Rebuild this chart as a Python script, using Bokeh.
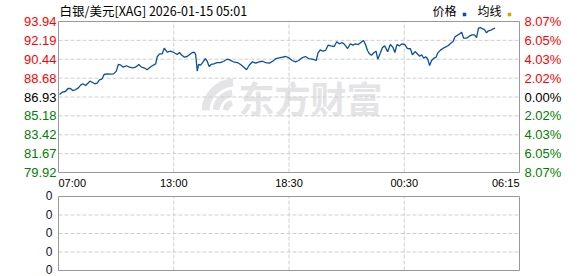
from bokeh.plotting import figure
from bokeh.models import Range1d, ColumnDataSource
from bokeh.core.properties import value, field
from bokeh.embed import file_html
from bokeh.resources import INLINE

# ---- data (minutes after 07:00, silver price USD) ----
minutes = [3, 11, 21, 29, 36, 43, 51, 60, 67, 74, 82, 89, 95, 102, 110, 117, 124, 132, 138, 147,
           157, 167, 175, 181, 189, 196, 205, 215, 225, 233, 243, 251, 259, 268, 275, 284, 294, 299,
           306, 314, 320, 329, 339, 349, 359, 366, 371, 381, 389, 397, 405, 412, 415, 420, 424, 430,
           437, 444, 450, 456, 462, 470, 480, 490, 500, 510, 518, 529, 541, 551, 561, 569, 577, 587,
           597, 607, 617, 627, 638, 648, 658, 668, 678, 688, 697, 707, 717, 727, 737, 747, 757, 768,
           780, 785, 792, 800, 808, 816, 824, 834, 842, 850, 858, 866, 875, 883, 891, 899, 907, 915,
           923, 929, 935, 941, 947, 955, 961, 966, 973, 980, 987, 996, 1004, 1012, 1018, 1024, 1032,
           1040, 1048, 1056, 1065, 1071, 1079, 1087, 1093, 1099, 1105, 1111, 1117, 1123, 1129, 1136,
           1142, 1148, 1156, 1164, 1172, 1180, 1186, 1194, 1200, 1206, 1212, 1220, 1226, 1235, 1243,
           1251, 1259, 1265, 1271, 1277, 1283, 1289, 1295, 1301, 1309, 1315, 1321]
prices = [87.16, 87.38, 87.44, 87.72, 87.72, 87.53, 87.60, 87.78, 88.03, 88.16, 88.00, 88.21, 88.40,
          88.30, 88.16, 88.21, 88.53, 88.62, 89.02, 89.08, 89.05, 89.08, 89.33, 89.95, 89.88, 89.70,
          89.83, 89.70, 89.64, 89.70, 89.95, 89.70, 89.64, 89.46, 89.64, 89.83, 90.01, 90.69, 90.94,
          90.94, 91.46, 91.09, 91.18, 91.06, 90.88, 91.06, 90.88, 90.63, 90.69, 90.88, 91.06, 91.06,
          90.88, 89.33, 89.95, 89.88, 90.16, 90.50, 90.25, 89.76, 89.95, 90.01, 90.13, 90.13, 90.25,
          90.44, 90.38, 90.20, 90.13, 89.95, 89.70, 89.46, 89.88, 90.20, 90.07, 90.20, 90.25, 90.13,
          90.07, 90.25, 90.50, 90.57, 90.63, 90.69, 90.57, 90.32, 90.20, 90.32, 90.57, 90.69, 90.50,
          90.44, 90.32, 91.00, 91.31, 91.18, 91.25, 91.74, 91.68, 91.62, 92.06, 91.87, 91.99, 91.80,
          91.43, 91.87, 91.74, 91.87, 91.80, 91.99, 92.18, 91.80, 91.25, 90.94, 90.81, 91.06, 91.18,
          90.44, 90.94, 91.50, 91.68, 91.13, 91.80, 91.55, 91.06, 91.80, 91.68, 91.87, 91.80, 91.43,
          91.41, 90.85, 91.15, 90.90, 90.72, 90.85, 90.53, 90.66, 90.48, 89.85, 90.32, 90.53, 90.60,
          91.03, 91.28, 91.46, 91.59, 91.71, 91.90, 92.08, 92.52, 92.64, 92.76, 92.95, 92.39, 92.39,
          92.58, 92.70, 92.70, 92.45, 93.32, 93.38, 93.26, 93.20, 92.89, 93.08, 93.13, 93.26, 93.32]

session_minutes = 1395
time_labels = ["07:00", "13:00", "18:30", "00:30", "06:15"]
price_ticks = [93.94, 92.19, 90.44, 88.68, 86.93, 85.18, 83.42, 81.67, 79.92]
pct_labels = ["8.07%", "6.05%", "4.03%", "2.02%", "0.00%", "2.02%", "4.03%", "6.05%", "8.07%"]
tick_colors = ["#ff0000"] * 4 + ["#000000"] + ["#008000"] * 4
vol_ticks = [4, 3, 2, 1, 0]
vol_labels = ["0", "0", "0", "0", "0"]
title_text = "白银/美元[XAG] 2026-01-15 05:01"
legend_items = ["价格", "均线"]
legend_colors = ["#0b4f9f", "#e0a000"]

# ---- layout (pixel boxes of the two panels on the 578x276 canvas) ----
W, H = 578, 276
FX0, FX1 = 58, 519          # panel left / right
PY0, PY1 = 21, 172          # price panel top / bottom
VY0, VY1 = 196, 270         # volume panel top / bottom

LINE_COLOR = "#0b4f9f"
GRID_COLOR = "#cfcfcf"
FRAME_COLOR = "#999999"
WM_COLOR = "#e4e4e6"
NUM_FONT = value("Liberation Sans")
CJK_FONT = value("Noto Sans CJK SC")

p_top, p_bot = price_ticks[0], price_ticks[-1]
v_top, v_bot = vol_ticks[0], vol_ticks[-1]


def xpx(px):
    return (px - FX0) / (FX1 - FX0) * session_minutes


def ppx(py):
    return p_top - (py - PY0) / (PY1 - PY0) * (p_top - p_bot)


def vpx(py):
    return v_top - (py - VY0) / (VY1 - VY0) * (v_top - v_bot)


time_ticks = [session_minutes * i / (len(time_labels) - 1) for i in range(len(time_labels))]

p = figure(width=W, height=H, x_range=Range1d(xpx(0), xpx(W)), y_range=Range1d(ppx(H), ppx(0)),
           x_axis_type=None, y_axis_type=None, toolbar_location=None, output_backend="svg",
           min_border=0, outline_line_color=None)
p.extra_y_ranges = {"vol": Range1d(vpx(H), vpx(0))}
p.background_fill_color = "white"
p.border_fill_color = "white"
p.xgrid.visible = False
p.ygrid.visible = False

# watermark (logo + brand text)
p.annular_wedge(x=[xpx(234)] * 3, y=[ppx(111)] * 3, inner_radius=[25, 15, 6],
                outer_radius=[33, 22, 12], inner_radius_units="screen",
                outer_radius_units="screen", start_angle=[1.62, 1.70, 1.85],
                end_angle=[3.10, 3.05, 3.0], fill_color=WM_COLOR, line_color=None)
p.text(x=[xpx(238)], y=[ppx(96)], text=["东方财富"], text_font=CJK_FONT, text_font_style="bold",
       text_font_size="36px", text_color=WM_COLOR, text_align="left", text_baseline="middle")

# grids (dashed)
inner_t = time_ticks[1:-1]
inner_p = price_ticks[1:-1]
inner_v = vol_ticks[1:-1]
dash = "4 2"
p.segment(x0=inner_t, x1=inner_t, y0=[p_bot] * len(inner_t), y1=[p_top] * len(inner_t),
          line_color=GRID_COLOR, line_dash=dash, line_width=1)
p.segment(x0=[0] * len(inner_p), x1=[session_minutes] * len(inner_p), y0=inner_p, y1=inner_p,
          line_color=GRID_COLOR, line_dash=dash, line_width=1)
p.segment(x0=inner_t, x1=inner_t, y0=[v_bot] * len(inner_t), y1=[v_top] * len(inner_t),
          line_color=GRID_COLOR, line_dash=dash, line_width=1, y_range_name="vol")
p.segment(x0=[0] * len(inner_v), x1=[session_minutes] * len(inner_v), y0=inner_v, y1=inner_v,
          line_color=GRID_COLOR, line_dash=dash, line_width=1, y_range_name="vol")

# panel frames
p.quad(left=[0], right=[session_minutes], bottom=[p_bot], top=[p_top], fill_color=None,
       line_color=FRAME_COLOR, line_width=1)
p.quad(left=[0], right=[session_minutes], bottom=[v_bot], top=[v_top], fill_color=None,
       line_color=FRAME_COLOR, line_width=1, y_range_name="vol")

# price line
p.line(minutes, prices, line_color=LINE_COLOR, line_width=1.3)

# price axis labels
n = len(price_ticks)
p.text(x=[xpx(56)] * n, y=price_ticks, text=[f"{v:.2f}" for v in price_ticks],
       text_color=tick_colors, text_font=NUM_FONT, text_font_size="13px",
       text_align="right", text_baseline="middle")
p.text(x=[xpx(524)] * n, y=price_ticks, text=pct_labels,
       text_color=tick_colors, text_font=NUM_FONT, text_font_size="13px",
       text_align="left", text_baseline="middle")

# time labels
aligns = ["left"] + ["center"] * (len(time_labels) - 2) + ["right"]
tsrc = ColumnDataSource(dict(x=time_ticks, y=[ppx(182)] * len(time_ticks), text=time_labels,
                             align=aligns))
p.text(x="x", y="y", text="text", source=tsrc, text_align=field("align"),
       text_baseline="middle", text_color="#000000", text_font=NUM_FONT, text_font_size="11px")

# volume labels (nudged 1px up so the last one stays on the canvas)
p.text(x=[xpx(52)] * len(vol_ticks), y=vol_ticks, text=vol_labels, y_range_name="vol",
       y_offset=-1, text_color="#101030", text_font=NUM_FONT, text_font_size="12px",
       text_align="right", text_baseline="middle")

# title and legend
p.text(x=[xpx(59)], y=[ppx(10)], text=[title_text], text_font=CJK_FONT, text_font_size="12.5px",
       text_color="#000000", text_align="left", text_baseline="middle")
leg_px = [432, 477]
p.text(x=[xpx(v) for v in leg_px], y=[ppx(10)] * 2, text=legend_items, text_font=CJK_FONT,
       text_font_size="12px", text_color="#000000", text_align="left", text_baseline="middle")
p.scatter(x=[xpx(v + 32) for v in leg_px], y=[ppx(14)] * 2, marker="square", size=3.5,
          fill_color=legend_colors, line_color=None)

open("out.html", "w").write(file_html(p, INLINE))
